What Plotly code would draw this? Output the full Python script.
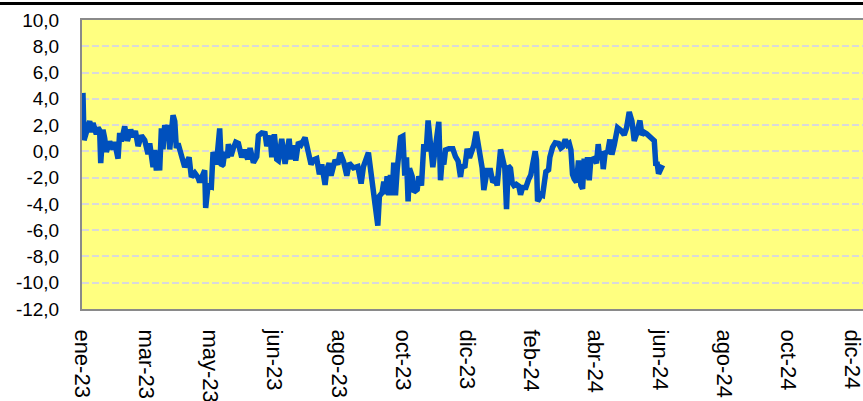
import pandas as pd
import plotly.graph_objects as go

start_date = "2023-01-01"

# day offsets from start_date and the series values
day_offset = [
    0.9, 1.9, 7.2, 8.7, 10.3, 13.4, 15.0, 16.5, 17.5, 19.6,
    21.2, 22.8, 25.9, 29.0, 30.5, 33.7, 35.2, 36.8, 39.9, 42.4,
    45.5, 47.7, 49.9, 52.4, 55.5, 58.6, 61.7, 63.3, 66.4, 68.0,
    69.5, 71.1, 72.6, 74.2, 75.7, 77.3, 78.9, 80.4, 82.0, 85.1,
    86.7, 88.2, 89.8, 92.9, 96.0, 100.1, 102.2, 105.4, 108.5, 110.0,
    113.1, 114.7, 115.6, 117.8, 120.9, 122.5, 125.6, 128.7, 130.3, 131.8,
    133.4, 135.9, 136.8, 139.3, 141.5, 143.7, 146.2, 149.3, 151.8, 154.9,
    157.1, 160.2, 163.3, 164.9, 168.0, 171.1, 172.7, 175.8, 177.4, 179.8,
    182.0, 183.6, 186.7, 189.8, 193.6, 195.4, 197.6, 199.8, 202.3, 204.8,
    208.5, 211.6, 214.1, 216.3, 219.4, 221.9, 224.1, 227.2, 228.8, 231.0,
    232.8, 236.6, 239.1, 241.3, 244.4, 247.5, 249.7, 253.7, 257.8, 260.9,
    263.1, 267.7, 270.9, 276.5, 278.0, 280.5, 282.1, 283.6, 285.2, 286.8,
    288.3, 289.9, 291.4, 293.0, 294.6, 296.1, 297.7, 299.9, 301.7, 303.3,
    304.8, 306.1, 308.6, 310.1, 313.3, 314.8, 317.3, 319.5, 321.7, 323.5,
    325.7, 327.9, 330.4, 333.5, 335.1, 336.6, 338.2, 339.8, 342.9, 346.6,
    349.1, 351.6, 353.8, 355.3, 357.8, 360.0, 362.2, 364.7, 366.2, 368.4,
    370.3, 372.5, 374.0, 375.6, 378.7, 381.8, 384.0, 386.5, 388.1, 391.2,
    393.4, 395.2, 396.8, 398.4, 400.5, 402.1, 403.7, 405.8, 408.3, 409.9,
    411.8, 414.9, 417.4, 419.5, 421.1, 423.6, 424.8, 425.8, 427.3, 428.9,
    430.5, 433.6, 436.1, 437.3, 439.8, 442.3, 445.4, 447.6, 449.2, 451.7,
    453.8, 455.4, 457.0, 458.5, 460.1, 462.2, 464.1, 466.3, 467.9, 469.4,
    471.0, 472.5, 474.1, 475.6, 478.8, 480.9, 482.5, 484.1, 485.9, 487.2,
    489.1, 491.2, 493.4, 495.3, 497.5, 500.6, 503.7, 506.8, 509.0, 511.5,
    514.0, 516.2, 518.4, 521.5, 523.3, 525.5, 527.7, 530.2, 532.7, 534.9,
    536.4, 537.4, 538.9, 541.1, 542.7,
]

index_value = [
    4.45, 0.85, 2.3, 1.45, 2.15, 1.3, 1.8, 1.6, -0.9, 1.65,
    1.0, -0.05, 0.75, 0.15, 0.7, -0.55, 1.4, 0.75, 1.9, 0.8,
    1.65, 1.1, 1.55, 0.4, 1.2, 0.85, -0.2, 0.6, -1.2, 0.1,
    -1.45, 0.0, -1.45, 1.75, 0.15, 2.0, 1.35, 2.0, 0.15, 2.75,
    2.3, 0.25, 0.6, -0.4, -1.2, -0.45, -1.95, -1.65, -2.0, -2.35,
    -1.65, -1.45, -4.3, -2.6, -2.7, -0.05, -1.0, 1.75, -1.1, -1.0,
    -0.05, -0.5, 0.55, -0.35, 0.25, 0.7, 0.6, -0.45, 0.1, -0.6,
    0.25, -0.85, -0.4, 1.2, 1.4, 1.35, 0.4, 1.2, -0.45, 1.3,
    -0.6, -0.7, 0.95, -0.95, 0.95, -0.6, 0.45, -0.7, 0.7, 0.5,
    1.05, 0.1, -1.0, -0.65, -0.55, -1.75, -1.0, -2.55, -1.4, -0.9,
    -1.85, -0.65, -1.0, -0.1, -0.75, -1.85, -0.9, -1.25, -1.15, -2.45,
    -1.15, -0.1, -2.4, -5.65, -3.4, -3.15, -2.3, -3.25, -1.9, -3.35,
    -1.8, -3.35, -0.85, -3.35, -1.4, 0.3, 1.05, 1.15, -1.85, -0.45,
    -3.8, -1.3, -1.9, -3.1, -2.9, -1.9, -2.6, 0.55, 0.0, 2.35,
    0.85, -1.2, 0.35, 2.25, -2.2, -0.65, -1.0, 0.1, 0.2, 0.2,
    -0.4, -0.75, -1.95, -1.05, -1.25, 0.2, -0.5, 0.0, 0.45, 1.5,
    0.5, -0.3, -1.25, -2.95, -1.45, -1.45, -2.35, -2.15, -2.6, 0.15,
    -0.65, -1.3, -4.4, -1.1, -1.3, -2.4, -2.6, -2.5, -2.65, -3.3,
    -2.75, -2.75, -2.15, -1.8, -1.05, 0.0, -0.65, -3.8, -3.6, -3.3,
    -3.35, -1.55, -1.4, -0.45, 0.3, 0.65, 0.6, 0.25, 0.35, 0.9,
    0.5, 0.6, 0.1, -1.75, -2.1, -2.35, -0.7, -2.6, -2.85, -0.55,
    -2.1, -0.45, -2.2, -0.65, -0.55, -0.9, 0.55, -0.65, 0.0, -1.35,
    0.0, -0.15, 0.9, -0.25, 0.5, 1.8, 1.6, 1.25, 1.8, 3.0,
    2.3, 0.8, 1.35, 2.35, 1.25, 1.45, 1.35, 1.2, 1.0, 0.8,
    -1.1, -0.8, -1.7, -1.3, -1.05,
]

assert len(day_offset) == len(index_value)

tick_dates = [
    "2023-01-01", "2023-03-02", "2023-05-01", "2023-06-30", "2023-08-29",
    "2023-10-28", "2023-12-27", "2024-02-25", "2024-04-25", "2024-06-24",
    "2024-08-23", "2024-10-22", "2024-12-21",
]
tick_labels = [
    "ene-23", "mar-23", "may-23", "jun-23", "ago-23", "oct-23", "dic-23",
    "feb-24", "abr-24", "jun-24", "ago-24", "oct-24", "dic-24",
]
x_range = ["2023-01-01", "2024-12-31"]

y_ticks = [10, 8, 6, 4, 2, 0, -2, -4, -6, -8, -10, -12]
y_labels = ["10,0", "8,0", "6,0", "4,0", "2,0", "0,0", "-2,0", "-4,0",
            "-6,0", "-8,0", "-10,0", "-12,0"]
y_range = [-12, 10]

dates = pd.Timestamp(start_date) + pd.to_timedelta(day_offset, unit="D")

fig = go.Figure(
    go.Scatter(
        x=dates, y=index_value, mode="lines",
        line=dict(color="#0050BD", width=5.5),
        hoverinfo="skip",
    )
)

fig.update_layout(
    width=863, height=401,
    margin=dict(l=82, r=0, t=20, b=92),
    paper_bgcolor="white",
    plot_bgcolor="#FFFF80",
    showlegend=False,
    font=dict(family="Liberation Sans, Arial, sans-serif", color="black"),
)

fig.update_xaxes(
    type="date", range=x_range,
    tickmode="array", tickvals=tick_dates, ticktext=tick_labels,
    tickangle=90, tickfont=dict(size=22),
    showgrid=False, zeroline=False,
    showline=True, linecolor="#8A8A8A", linewidth=2, mirror=True,
    ticks="", ticklabelstandoff=14, automargin=False,
    ticklabeloverflow="allow",
)

fig.update_yaxes(
    range=y_range,
    tickmode="array", tickvals=y_ticks, ticktext=y_labels,
    tickfont=dict(size=19),
    showgrid=True, gridcolor="#D9D9D9", gridwidth=2, griddash="7px,3px",
    zeroline=False,
    showline=True, linecolor="#8A8A8A", linewidth=2,
    ticks="", ticklabelstandoff=17, automargin=False,
    ticklabeloverflow="allow",
)

fig.add_shape(
    type="line", xref="paper", yref="paper",
    x0=-0.2, x1=1.1, y0=1.057, y1=1.057,
    line=dict(color="black", width=3),
)

fig.write_html(
    "out.html",
    config={"displayModeBar": False},
    post_script="document.body.style.margin='0';document.body.style.overflow='hidden';",
)
